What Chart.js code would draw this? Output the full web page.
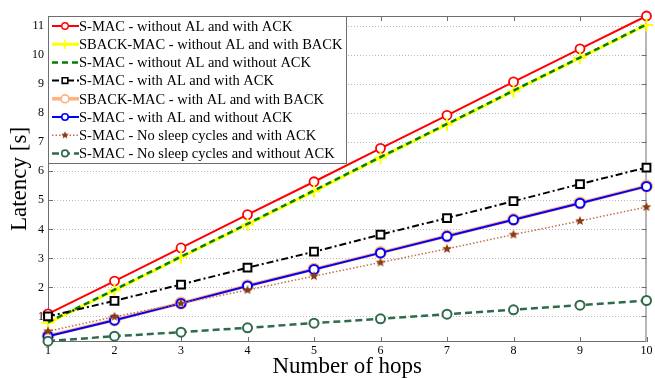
<!DOCTYPE html>
<html>
<head>
<meta charset="utf-8">
<script src="https://cdn.jsdelivr.net/npm/chart.js@4/dist/chart.umd.min.js"></script>
<style>
  html, body { margin: 0; padding: 0; background: #fff; }
</style>
</head>
<body>
<canvas id="latencyChart" width="655" height="378"></canvas>
<script>
// Latency vs number of hops
const hops = [1, 2, 3, 4, 5, 6, 7, 8, 9, 10];
const xTicks = [1, 2, 3, 4, 5, 6, 7, 8, 9, 10];
const yTicks = [1, 2, 3, 4, 5, 6, 7, 8, 9, 10, 11];

const seriesNames = [
  "S-MAC - without AL and with ACK",
  "SBACK-MAC - without AL and with BACK",
  "S-MAC - without AL and without ACK",
  "S-MAC - with AL and with ACK",
  "SBACK-MAC - with AL and with BACK",
  "S-MAC - with AL and without ACK",
  "S-MAC - No sleep cycles and with ACK",
  "S-MAC - No sleep cycles and without ACK"
];

const smacNoAlAck = [1.09, 2.22, 3.36, 4.51, 5.64, 6.79, 7.93, 9.08, 10.22, 11.35];
const sbackNoAlBack = [0.78, 1.90, 3.04, 4.17, 5.31, 6.47, 7.61, 8.76, 9.91, 11.04];
const smacNoAlNoAck = [0.80, 1.92, 3.06, 4.19, 5.34, 6.49, 7.63, 8.78, 9.92, 11.06];
const smacAlAck = [1.00, 1.54, 2.10, 2.68, 3.23, 3.82, 4.39, 4.97, 5.56, 6.13];
const sbackAlBack = [0.33, 0.88, 1.46, 2.06, 2.63, 3.20, 3.77, 4.34, 4.91, 5.49];
const smacAlNoAck = [0.32, 0.87, 1.45, 2.05, 2.62, 3.19, 3.76, 4.33, 4.90, 5.48];
const smacNoSleepAck = [0.49, 0.99, 1.45, 1.91, 2.39, 2.86, 3.33, 3.82, 4.29, 4.77];
const smacNoSleepNoAck = [0.15, 0.32, 0.46, 0.61, 0.77, 0.92, 1.08, 1.23, 1.39, 1.55];

const serif = "'Liberation Serif', 'Times New Roman', serif";

// filled five-point star used as the brown marker
function starImage(color, r) {
  const c = document.createElement("canvas");
  c.width = c.height = 2 * r + 2;
  const g = c.getContext("2d");
  g.fillStyle = color;
  g.beginPath();
  for (let k = 0; k < 10; k++) {
    const ang = -Math.PI / 2 + k * Math.PI / 5;
    const rr = k % 2 ? r * 0.45 : r;
    g.lineTo(r + 1 + rr * Math.cos(ang), r + 1 + rr * Math.sin(ang));
  }
  g.closePath();
  g.fill();
  return c;
}
const brownStar = starImage("#8b3a12", 5);
const brownStarSmall = starImage("#8b3a12", 4);

function series(i, data, color, width, dash, style, radius, fill, pbw) {
  return {
    label: seriesNames[i],
    data: data,
    borderColor: color,
    borderWidth: width,
    borderDash: dash,
    pointStyle: style,
    pointRadius: radius,
    pointBorderColor: color,
    pointBackgroundColor: fill,
    pointBorderWidth: pbw,
    tension: 0,
    clip: false,
    order: 8 - i
  };
}

const datasets = [
  series(0, smacNoAlAck, "#ff0000", 2, [], "circle", 4.5, "#ffffff", 1.8),
  series(1, sbackNoAlBack, "#ffff00", 3, [], "cross", 6.5, "#ffff00", 2),
  series(2, smacNoAlNoAck, "#008000", 2.5, [6, 4], "circle", 0, "#008000", 0),
  series(3, smacAlAck, "#000000", 2, [7, 3, 2, 3], "rect", 5.5, "#ffffff", 2),
  series(4, sbackAlBack, "#ffb27a", 3.5, [], "circle", 5.5, "#ffffff", 2),
  series(5, smacAlNoAck, "#0000ff", 2, [], "circle", 4.5, "#ffffff", 2),
  series(6, smacNoSleepAck, "#c0704a", 1.5, [1.5, 2], brownStar, 5, "#8b3a12", 0),
  series(7, smacNoSleepNoAck, "#2e6b4b", 2.5, [7, 4], "circle", 4.5, "#ffffff", 2)
];

const frame = {
  id: "frame",
  beforeDatasetsDraw(chart) {
    const { ctx, chartArea: a, scales: { x, y } } = chart;
    ctx.save();
    ctx.strokeStyle = "#6e6e6e";
    ctx.lineWidth = 1;
    ctx.strokeRect(a.left + 0.5, a.top + 0.5, a.right - a.left - 1, a.bottom - a.top - 1);
    ctx.beginPath();
    xTicks.forEach(v => {
      const px = Math.round(x.getPixelForValue(v)) + 0.5;
      ctx.moveTo(px, a.bottom); ctx.lineTo(px, a.bottom - 5);
      ctx.moveTo(px, a.top); ctx.lineTo(px, a.top + 5);
    });
    yTicks.forEach(v => {
      const py = Math.round(y.getPixelForValue(v)) + 0.5;
      ctx.moveTo(a.left, py); ctx.lineTo(a.left + 5, py);
      ctx.moveTo(a.right, py); ctx.lineTo(a.right - 5, py);
    });
    ctx.stroke();
    ctx.restore();
  },
  afterDatasetsDraw(chart) {
    const { ctx, chartArea: a } = chart;
    const lx = a.left, ly = a.top, lw = 298, lh = 147;
    ctx.save();
    ctx.fillStyle = "#ffffff";
    ctx.fillRect(lx, ly, lw, lh);
    ctx.strokeStyle = "#6e6e6e";
    ctx.lineWidth = 1;
    ctx.strokeRect(lx + 0.5, ly + 0.5, lw, lh);
    chart.data.datasets.forEach((ds, i) => {
      const cy = ly + 10 + i * 18.2;
      ctx.save();
      ctx.strokeStyle = ds.borderColor;
      ctx.lineWidth = ds.borderWidth;
      ctx.setLineDash(ds.borderDash);
      ctx.beginPath();
      ctx.moveTo(lx + 4, cy);
      ctx.lineTo(lx + 31, cy);
      ctx.stroke();
      ctx.restore();
      if (ds.pointRadius > 0) {
        ctx.save();
        ctx.strokeStyle = ds.pointBorderColor;
        ctx.fillStyle = ds.pointBackgroundColor;
        ctx.lineWidth = ds.pointBorderWidth * 0.8;
        Chart.helpers.drawPoint(ctx, {
          pointStyle: ds.pointStyle === brownStar ? brownStarSmall : ds.pointStyle,
          radius: ds.pointRadius * 0.72,
          borderWidth: ds.pointBorderWidth * 0.8,
          rotation: 0
        }, lx + 17, cy);
        ctx.restore();
      }
      ctx.fillStyle = "#000000";
      ctx.font = "14.5px " + serif;
      ctx.textBaseline = "middle";
      ctx.textAlign = "left";
      ctx.fillText(ds.label, lx + 31, cy + 1);
    });
    ctx.restore();
  }
};

new Chart(document.getElementById("latencyChart"), {
  type: "line",
  data: { labels: hops, datasets: datasets },
  options: {
    responsive: false,
    animation: false,
    layout: { padding: { top: 16, right: 3, left: 0, bottom: 0 } },
    plugins: { legend: { display: false }, tooltip: { enabled: false } },
    scales: {
      x: {
        type: "linear",
        min: 1,
        max: 10,
        grid: { display: false, drawTicks: false },
        border: { display: false },
        ticks: { color: "#000", font: { family: serif, size: 12 }, padding: 2 },
        afterBuildTicks: s => { s.ticks = xTicks.map(v => ({ value: v })); },
        afterFit: s => { s.height = 36; s.paddingLeft = 0; s.paddingRight = 0; },
        title: {
          display: true,
          text: "Number of hops",
          color: "#000",
          font: { family: serif, size: 23, lineHeight: 1 },
          padding: { top: 0, bottom: 0 }
        }
      },
      y: {
        type: "linear",
        min: 0.12,
        max: 11.35,
        grid: { color: "#b8b8b8", drawTicks: false },
        border: { display: false, dash: [1, 2] },
        ticks: { color: "#000", font: { family: serif, size: 12 }, padding: 4 },
        afterBuildTicks: s => { s.ticks = yTicks.map(v => ({ value: v })); },
        afterFit: s => { s.width = 48; s.paddingTop = 0; s.paddingBottom = 0; },
        title: {
          display: true,
          text: "Latency [s]",
          color: "#000",
          font: { family: serif, size: 23, lineHeight: 1.2 },
          padding: { top: 6, bottom: 0 }
        }
      }
    }
  },
  plugins: [frame]
});
</script>
</body>
</html>
